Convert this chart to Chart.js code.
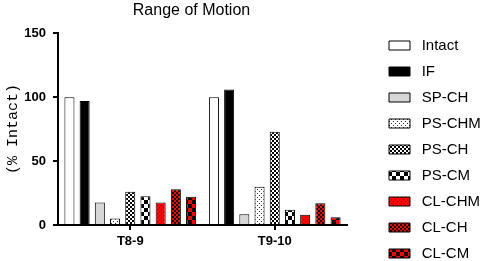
<!DOCTYPE html>
<html>
<head>
<meta charset="utf-8">
<script src="https://cdn.jsdelivr.net/npm/chart.js@4"></script>
<style>
  html, body { margin:0; padding:0; background:#fff; }
  canvas { display:block; }
</style>
</head>
<body>
<canvas id="rom" width="484" height="261"></canvas>
<script>
const levels = ['T8-9', 'T9-10'];
const yTicks = [0, 50, 100, 150];

const intact = [100, 100];
const fixIF  = [97, 106];
const spCH   = [17.5, 8.5];
const psCHM  = [5, 30];
const psCH   = [26, 73];
const psCM   = [22.5, 12];
const clCHM  = [17.5, 8];
const clCH   = [28, 17];
const clCM   = [22, 6];

const FONT = 'Liberation Sans, Arial, sans-serif';
const RED = '#ff0000';

// little canvas patterns for the hatched bars
function tile(w, h, draw) {
  const c = document.createElement('canvas');
  c.width = w; c.height = h;
  draw(c.getContext('2d'));
  return document.getElementById('rom').getContext('2d').createPattern(c, 'repeat');
}
function checker(n, a, b) {
  return tile(2*n, 2*n, g => {
    g.fillStyle = a; g.fillRect(0, 0, 2*n, 2*n);
    g.fillStyle = b; g.fillRect(0, 0, n, n); g.fillRect(n, n, n, n);
  });
}
function dots(step, bg, fg) {
  return tile(step, step, g => {
    g.fillStyle = bg; g.fillRect(0, 0, step, step);
    g.fillStyle = fg; g.fillRect(1, 1, 1, 1); g.fillRect(1 + step/2, 1 + step/2, 1, 1);
  });
}

const series = [
  { label:'Intact', data:intact, fill:'#ffffff' },
  { label:'IF',     data:fixIF,  fill:'#000000' },
  { label:'SP-CH',  data:spCH,   fill:'#d6d6d6' },
  { label:'PS-CHM', data:psCHM,  fill:dots(4, '#ffffff', '#333333') },
  { label:'PS-CH',  data:psCH,   fill:checker(2, '#ffffff', '#000000') },
  { label:'PS-CM',  data:psCM,   fill:checker(4, '#ffffff', '#000000') },
  { label:'CL-CHM', data:clCHM,  fill:dots(4, RED, '#800000') },
  { label:'CL-CH',  data:clCH,   fill:checker(2, RED, '#000000') },
  { label:'CL-CM',  data:clCM,   fill:checker(4, RED, '#000000') },
];

// shift title / legend a bit after layout, like the original figure
const nudge = {
  id:'nudge',
  afterLayout(chart) {
    const l = chart.legend;
    const dx = 389 - (l.left + 11);
    l.top += 27; l.bottom += 27; l.left += dx; l.right += dx;
    const t = chart.titleBlock;
    t.left -= 11; t.right -= 11;
  }
};

new Chart(document.getElementById('rom'), {
  type:'bar',
  data:{
    labels: levels,
    datasets: series.map(s => ({
      label: s.label, data: s.data,
      backgroundColor: s.fill, borderColor:'#000', borderWidth:1,
      categoryPercentage:0.947, barPercentage:0.66
    }))
  },
  options:{
    responsive:false,
    animation:false,
    plugins:{
      title:{ display:true, text:'Range of Motion', fullSize:false, color:'#000',
        font:{ family:FONT, size:16, weight:'normal' }, padding:{ top:1, bottom:13 } },
      legend:{ position:'right', align:'start', maxWidth:200,
        labels:{ color:'#000', font:{ family:FONT, size:15 }, boxWidth:21, boxHeight:9, padding:11,
          generateLabels: chart => Chart.defaults.plugins.legend.labels.generateLabels(chart)
            .map(i => ({ ...i, text:' ' + i.text, lineWidth:1 })) } },
      tooltip:{ enabled:false }
    },
    scales:{
      x:{
        grid:{ display:true, drawOnChartArea:false, offset:false, color:'#000', lineWidth:2, tickLength:5 },
        border:{ color:'#000', width:2 },
        ticks:{ color:'#000', font:{ family:FONT, size:13, weight:'bold' }, padding:4 },
        afterFit: s => { s.height = 36; }
      },
      y:{
        min:0, max:150,
        afterBuildTicks: s => { s.ticks = yTicks.map(v => ({ value:v })); },
        grid:{ display:true, drawOnChartArea:false, color:'#000', lineWidth:2, tickLength:5 },
        border:{ color:'#000', width:2 },
        ticks:{ color:'#000', font:{ family:FONT, size:13, weight:'bold' }, padding:7 },
        title:{ display:true, text:'(% Intact)', color:'#000',
          font:{ family:'Liberation Mono, monospace', size:15, weight:'normal' }, padding:{ top:4, bottom:0 } },
        afterFit: s => { s.width = 58; }
      },
      gap:{
        type:'linear', position:'right', display:true,
        grid:{ display:false }, border:{ display:false }, ticks:{ display:false },
        afterFit: s => { s.width = 137 - s.chart.legend.width; }
      }
    }
  },
  plugins:[nudge]
});
</script>
</body>
</html>
